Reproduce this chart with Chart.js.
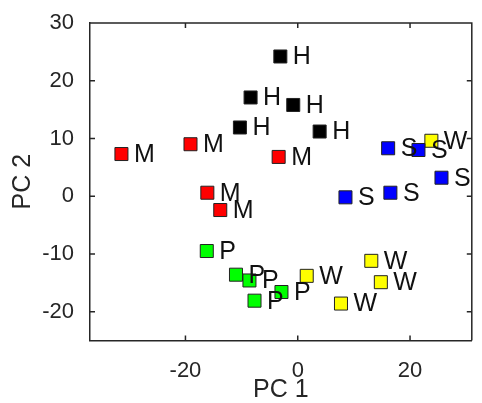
<!DOCTYPE html>
<html lang="en">
<head>
  <meta charset="UTF-8" />
  <title>PCA scores</title>
  <script src="https://cdn.jsdelivr.net/npm/chart.js"></script>
  <style>
    body {
      margin: 0;
      background: white;
    }
    canvas {
      display: block;
    }
  </style>
</head>
<body>
  <canvas id="pcaChart" width="482" height="403"></canvas>

  <script>
    // group letters and colours
    const groups = ["M", "H", "S", "W", "P"];
    const groupColors = ["#ff0000", "#000000", "#0000ff", "#ffff00", "#00ff00"];

    // PC 1 / PC 2 scores per group
    const mX = [-31.4, -19.1, -3.4, -16.1, -13.8];
    const mY = [7.3, 9.0, 6.8, 0.6, -2.4];
    const hX = [-3.1, -8.4, -0.8, -10.3, 3.9];
    const hY = [24.2, 17.1, 15.8, 11.9, 11.2];
    const sX = [16.1, 21.5, 25.6, 8.5, 16.5];
    const sY = [8.3, 8.0, 3.2, -0.2, 0.6];
    const wX = [23.8, 13.1, 14.8, 1.6, 7.7];
    const wY = [9.6, -11.2, -14.9, -13.8, -18.6];
    const pX = [-16.2, -11.0, -8.6, -7.7, -2.9];
    const pY = [-9.5, -13.6, -14.6, -18.1, -16.6];

    const xTicks = [-20, 0, 20];
    const yTicks = [-20, -10, 0, 10, 20, 30];

    const allX = [mX, hX, sX, wX, pX];
    const allY = [mY, hY, sY, wY, pY];

    const axisColor = "#262626";
    const font = "'Liberation Sans', Arial, sans-serif";

    const datasets = groups.map((g, i) => ({
      label: g,
      data: allX[i].map((x, j) => ({ x: x, y: allY[i][j] })),
      pointStyle: "rect",
      pointRadius: 9.2,
      pointHoverRadius: 9.2,
      backgroundColor: groupColors[i],
      borderColor: "#222",
      borderWidth: 1
    }));

    // letters next to each square
    const letterPlugin = {
      id: "letters",
      afterDatasetsDraw(chart) {
        const ctx = chart.ctx;
        ctx.save();
        ctx.font = "25px " + font;
        ctx.fillStyle = "#111";
        ctx.textAlign = "left";
        ctx.textBaseline = "middle";
        chart.data.datasets.forEach((ds, i) => {
          chart.getDatasetMeta(i).data.forEach(pt => {
            ctx.fillText(ds.label, pt.x + 12.5, pt.y + 1);
          });
        });
        ctx.restore();
      }
    };

    // MATLAB style box with inward ticks
    const boxPlugin = {
      id: "box",
      afterDraw(chart) {
        const ctx = chart.ctx;
        const a = chart.chartArea;
        const xs = chart.scales.x;
        const ys = chart.scales.y;
        const len = 5;
        ctx.save();
        ctx.strokeStyle = axisColor;
        ctx.lineWidth = 1.5;
        ctx.beginPath();
        ctx.moveTo(a.left, a.top);
        ctx.lineTo(a.right, a.top);
        ctx.lineTo(a.right, a.bottom);
        xTicks.forEach(v => {
          const px = xs.getPixelForValue(v);
          ctx.moveTo(px, a.bottom);
          ctx.lineTo(px, a.bottom - len);
          ctx.moveTo(px, a.top);
          ctx.lineTo(px, a.top + len);
        });
        yTicks.forEach(v => {
          const py = ys.getPixelForValue(v);
          ctx.moveTo(a.left, py);
          ctx.lineTo(a.left + len, py);
          ctx.moveTo(a.right, py);
          ctx.lineTo(a.right - len, py);
        });
        ctx.stroke();
        ctx.restore();
      }
    };

    new Chart(document.getElementById("pcaChart").getContext("2d"), {
      type: "scatter",
      data: { datasets: datasets },
      options: {
        responsive: false,
        animation: false,
        layout: { padding: { top: 23, right: 1, left: 0, bottom: 0 } },
        plugins: {
          legend: { display: false },
          tooltip: { enabled: false }
        },
        scales: {
          x: {
            min: -37,
            max: 31,
            afterFit(s) { s.height = 62.5; },
            ticks: {
              stepSize: 20,
              includeBounds: false,
              padding: 9,
              color: axisColor,
              font: { family: font, size: 22 },
              callback: v => String(v)
            },
            grid: { display: false },
            border: { display: true, color: axisColor, width: 1.5 },
            title: {
              display: true,
              text: "PC 1",
              color: axisColor,
              font: { family: font, size: 25, lineHeight: 1 },
              padding: { top: 0, bottom: 0 }
            }
          },
          y: {
            min: -25,
            max: 30,
            afterFit(s) { s.width = 90; },
            ticks: {
              stepSize: 10,
              includeBounds: false,
              padding: 8,
              color: axisColor,
              font: { family: font, size: 22 },
              callback: v => String(v)
            },
            grid: { display: false },
            border: { display: true, color: axisColor, width: 1.5 },
            title: {
              display: true,
              text: "PC 2",
              color: axisColor,
              font: { family: font, size: 25, lineHeight: 1 },
              padding: { top: 11, bottom: 0 }
            }
          }
        }
      },
      plugins: [letterPlugin, boxPlugin]
    });
  </script>
</body>
</html>
